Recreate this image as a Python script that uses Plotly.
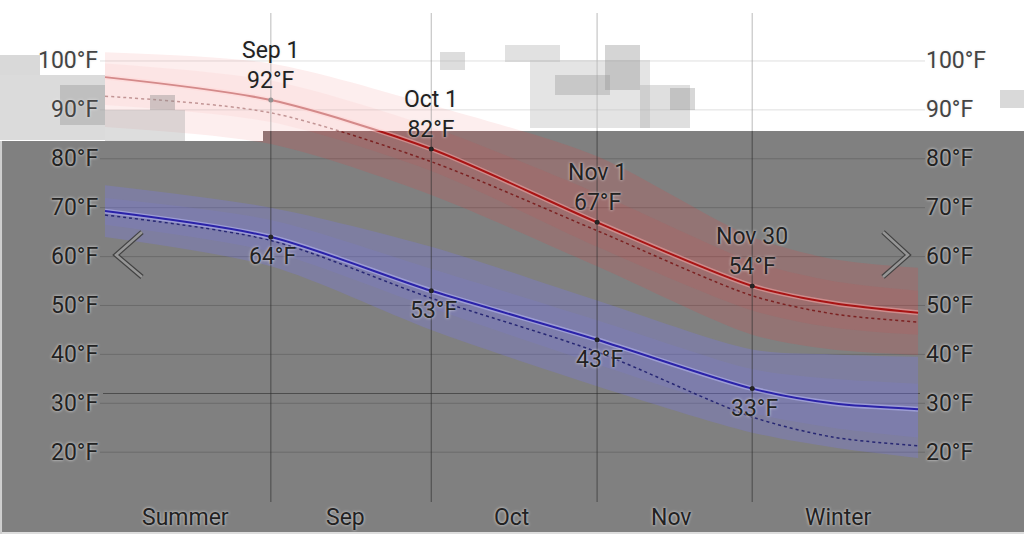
import plotly.graph_objects as go

# ---------------- data ----------------
dates = ["2023-08-01", "2023-09-01", "2023-10-01", "2023-11-01", "2023-11-30", "2023-12-15", "2023-12-31"]

high_avg = [96.7, 92, 82, 67, 54, 50.5, 48.5]
high_dot = [92.8, 89.4, 79.4, 65.3, 52, 48.3, 46.6]
high_p90 = [101.8, 99.5, 91, 80.5, 64, 59.5, 57.7]
high_p75 = [99.5, 96, 86.5, 73, 59, 55, 53]
high_p25 = [91, 87.5, 77.5, 62, 49, 45.5, 44]
high_p10 = [86.5, 83, 72.6, 58, 44, 41, 39.9]

low_avg = [69.3, 64, 53, 43, 33, 30, 28.8]
low_dot = [68.5, 63.3, 51.5, 40.5, 27.2, 23.1, 21.3]
low_p90 = [74.6, 70, 62, 51, 41, 40, 39.5]
low_p75 = [72, 67.5, 57.5, 47, 37, 35, 34]
low_p25 = [66.5, 61, 49.5, 38, 28, 25, 23]
low_p10 = [64, 58, 45, 33.5, 24, 21, 18.8]

label_dates = ["2023-09-01", "2023-10-01", "2023-11-01", "2023-11-30"]
label_names = ["Sep 1", "Oct 1", "Nov 1", "Nov 30"]
label_high = [92, 82, 67, 54]
label_low = [64, 53, 43, 33]

month_dates = ["2023-08-16", "2023-09-15", "2023-10-16", "2023-11-15", "2023-12-16"]
month_labels = ["Summer", "Sep", "Oct", "Nov", "Winter"]

y_ticks = [20, 30, 40, 50, 60, 70, 80, 90, 100]
freezing = 32

# ---------------- style ----------------
W, H = 1024, 534
BG = "#808080"
FONT = "Roboto"
HALO = "0px 0px 3px #e8e8e8"
SM = 0.8

fig = go.Figure()


def band(lo, hi, color):
    fig.add_trace(go.Scatter(x=dates, y=lo, mode="lines", line=dict(width=0, shape="spline", smoothing=SM),
                             hoverinfo="skip", showlegend=False))
    fig.add_trace(go.Scatter(x=dates, y=hi, mode="lines", line=dict(width=0, shape="spline", smoothing=SM),
                             fill="tonexty", fillcolor=color, hoverinfo="skip", showlegend=False))


band(high_p10, high_p90, "rgba(235,60,60,0.18)")
band(high_p25, high_p75, "rgba(235,60,60,0.10)")
band(low_p10, low_p90, "rgba(120,120,255,0.25)")
band(low_p25, low_p75, "rgba(120,120,255,0.12)")

# dotted lines
fig.add_trace(go.Scatter(x=dates, y=high_dot, mode="lines",
                         line=dict(color="rgba(120,25,25,0.9)", width=1.5, dash="dot", shape="spline", smoothing=SM),
                         hoverinfo="skip", showlegend=False))
fig.add_trace(go.Scatter(x=dates, y=low_dot, mode="lines",
                         line=dict(color="rgba(30,30,110,0.9)", width=1.5, dash="dot", shape="spline", smoothing=SM),
                         hoverinfo="skip", showlegend=False))

# halos under main lines
fig.add_trace(go.Scatter(x=dates, y=high_avg, mode="lines",
                         line=dict(color="rgba(255,170,170,0.5)", width=5, shape="spline", smoothing=SM),
                         hoverinfo="skip", showlegend=False))
fig.add_trace(go.Scatter(x=dates, y=low_avg, mode="lines",
                         line=dict(color="rgba(190,190,255,0.5)", width=5, shape="spline", smoothing=SM),
                         hoverinfo="skip", showlegend=False))
# main lines
fig.add_trace(go.Scatter(x=dates, y=high_avg, mode="lines",
                         line=dict(color="#a81414", width=2, shape="spline", smoothing=SM),
                         hoverinfo="skip", showlegend=False))
fig.add_trace(go.Scatter(x=dates, y=low_avg, mode="lines",
                         line=dict(color="#2a22a8", width=2, shape="spline", smoothing=SM),
                         hoverinfo="skip", showlegend=False))

# markers
fig.add_trace(go.Scatter(x=label_dates, y=label_high, mode="markers",
                         marker=dict(color="#222", size=5), hoverinfo="skip", showlegend=False))
fig.add_trace(go.Scatter(x=label_dates, y=label_low, mode="markers",
                         marker=dict(color="#222", size=5), hoverinfo="skip", showlegend=False))


def rect_px(x0, y0, x1, y1, color, layer="below"):
    return dict(type="rect", xref="paper", yref="paper", x0=x0 / W, x1=x1 / W, y0=1 - y1 / H, y1=1 - y0 / H,
                fillcolor=color, line=dict(width=0), layer=layer)


shapes = []
# white screenshot region at top
shapes.append(rect_px(0, 0, W, 131, "white"))
shapes.append(rect_px(0, 131, 263, 141, "white"))
# horizontal grid
for t in y_ticks:
    shapes.append(dict(type="line", xref="paper", yref="y", x0=100 / W, x1=925 / W, y0=t, y1=t,
                       line=dict(color="rgba(70,70,70,0.35)", width=1), layer="below"))
shapes.append(dict(type="line", xref="paper", yref="y", x0=103 / W, x1=920 / W, y0=freezing, y1=freezing,
                   line=dict(color="rgba(55,55,55,0.7)", width=1), layer="below"))
# vertical date lines
for d in label_dates:
    shapes.append(dict(type="line", xref="x", yref="paper", x0=d, x1=d, y0=1 - 502 / H, y1=1 - 13 / H,
                       line=dict(color="rgba(45,45,45,0.55)", width=1.2), layer="above"))
# washed-out overlay of the white screenshot region
shapes.append(rect_px(0, 0, W, 131, "rgba(255,255,255,0.5)", "above"))
shapes.append(rect_px(0, 131, 263, 141, "rgba(255,255,255,0.5)", "above"))
# pixelated cloud artefacts
for (x0, y0, x1, y1, c) in [
    (0, 55, 40, 75, "rgba(170,170,170,0.45)"),
    (0, 75, 105, 140, "rgba(175,175,175,0.45)"),
    (60, 85, 105, 125, "rgba(140,140,140,0.35)"),
    (105, 110, 185, 141, "rgba(170,170,170,0.4)"),
    (150, 95, 175, 110, "rgba(140,140,140,0.4)"),
    (440, 52, 465, 70, "rgba(170,170,170,0.4)"),
    (505, 45, 560, 62, "rgba(180,180,180,0.4)"),
    (530, 60, 650, 128, "rgba(195,195,195,0.45)"),
    (555, 75, 610, 95, "rgba(150,150,150,0.35)"),
    (605, 45, 640, 90, "rgba(150,150,150,0.4)"),
    (640, 85, 690, 128, "rgba(175,175,175,0.4)"),
    (670, 88, 695, 110, "rgba(140,140,140,0.35)"),
    (1000, 90, 1024, 108, "rgba(170,170,170,0.45)"),
]:
    shapes.append(rect_px(x0, y0, x1, y1, c, "above"))


def to_paper(points):
    parts = []
    for i, (px, py) in enumerate(points):
        parts.append(("M" if i == 0 else "L") + f"{px / W:.4f},{1 - py / H:.4f}")
    return " ".join(parts)


# nav chevrons
for pts in [[(142, 232), (116, 255), (142, 277)], [(883, 232), (908, 255), (883, 277)]]:
    p = to_paper(pts)
    shapes.append(dict(type="path", xref="paper", yref="paper", path=p,
                       line=dict(color="rgba(60,60,60,0.9)", width=5), layer="above"))
    shapes.append(dict(type="path", xref="paper", yref="paper", path=p,
                       line=dict(color="rgba(150,150,150,1)", width=2.5), layer="above"))
# light frame at left/bottom
shapes.append(dict(type="line", xref="paper", yref="paper", x0=0, x1=1, y0=0.002, y1=0.002,
                   line=dict(color="#dddddd", width=2)))
shapes.append(dict(type="line", xref="paper", yref="paper", x0=0.001, x1=0.001, y0=0, y1=1 - 141 / H,
                   line=dict(color="#cfcfcf", width=2)))

annotations = []
lab_font = dict(family=FONT, size=23, color="#222", shadow=HALO)
for t in y_ticks:
    c = "#444" if t >= 90 else "#222"
    annotations.append(dict(text=f"{t}°F", xref="paper", yref="y", x=100 / W, y=t, xanchor="right",
                            yanchor="middle", showarrow=False, font=dict(lab_font, color=c)))
    annotations.append(dict(text=f"{t}°F", xref="paper", yref="y", x=924 / W, y=t, xanchor="left",
                            yanchor="middle", showarrow=False, font=dict(lab_font, color=c)))
for d, name, hi, lo in zip(label_dates, label_names, label_high, label_low):
    annotations.append(dict(text=f"{name}<br>{hi}°F", xref="x", yref="y", x=d, y=hi, xanchor="center",
                            yanchor="bottom", showarrow=False, yshift=4, font=lab_font))
    annotations.append(dict(text=f"{lo}°F", xref="x", yref="y", x=d, y=lo, xanchor="center",
                            yanchor="top", showarrow=False, yshift=-4, xshift=2, font=lab_font))
for d, m in zip(month_dates, month_labels):
    annotations.append(dict(text=m, xref="x", yref="paper", x=d, y=1 - 517 / H, xanchor="center",
                            yanchor="middle", showarrow=False, font=lab_font))

fig.update_layout(
    width=W, height=H,
    margin=dict(l=0, r=0, t=0, b=0),
    paper_bgcolor=BG, plot_bgcolor=BG,
    showlegend=False, hovermode=False,
    xaxis=dict(type="date", range=["2023-07-12 08:53", "2024-01-19 19:27"], visible=False, fixedrange=True),
    yaxis=dict(range=[3.27, 112.47], visible=False, fixedrange=True),
    shapes=shapes, annotations=annotations,
)

fig.write_html("out.html", config=dict(displayModeBar=False),
               post_script="document.body.style.margin='0';document.body.style.overflow='hidden';")
